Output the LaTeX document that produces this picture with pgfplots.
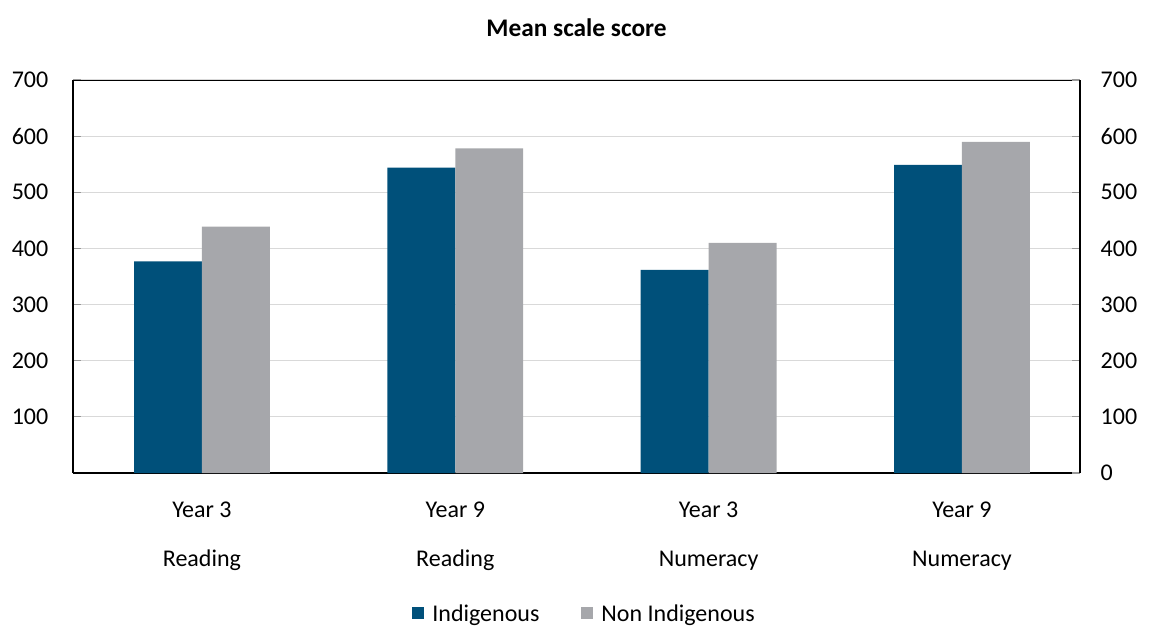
\documentclass[border=0pt]{standalone}
\usepackage{pgfplots}
\pgfplotsset{compat=1.18}
\usepackage{fontspec}
\setmainfont{Carlito}
\definecolor{indig}{RGB}{0,80,122}
\definecolor{nonind}{RGB}{166,167,171}
\definecolor{gridc}{RGB}{217,217,217}

\begin{document}
\begin{tikzpicture}
\useasboundingbox (-54.75pt,-116.25pt) rectangle (811.5pt,354.75pt);
\pgfplotsset{
  base/.style={
    scale only axis,
    width=755.25pt, height=294.75pt,
    xmin=-0.509, xmax=3.466,
    ymin=0, ymax=700,
    axis line style={black, line width=1.5pt},
    tick style={gridc!70!black, line width=0.8pt},
    major tick length=6pt,
    tick align=inside,
    ticklabel style={font=\fontsize{18}{21}\selectfont},
    /pgf/number format/assume math mode=true,
  }
}
\begin{axis}[
    base,
    ybar=0pt,
    bar width=0.268,
    axis y line*=left,
    axis x line*=bottom,
    ytick={100,200,...,700},
    ymajorgrids=true,
    grid style={gridc, line width=0.8pt},
    xtick=data,
    major x tick style={draw=none},
    xticklabels={{Year 3\\Reading},{Year 9\\Reading},{Year 3\\Numeracy},{Year 9\\Numeracy}},
    xticklabel style={align=center, font=\fontsize{18}{36.75}\selectfont, yshift=-12pt},
    yticklabel style={xshift=-15pt},
    title={\textbf{Mean scale score}},
    title style={at={(0.5,1)}, anchor=center, yshift=33pt, font=\fontsize{19}{22}\selectfont},
    legend style={at={(0.508,-0.359)}, anchor=center, legend columns=2, draw=none,
      font=\fontsize{18}{21}\selectfont,
      /tikz/every odd column/.append style={column sep=4pt},
      /tikz/every even column/.append style={column sep=29pt}},
    legend image code/.code={\fill[#1] (0pt,-4pt) rectangle (9.5pt,5.5pt);},
]
\addplot[fill=indig, draw=none] coordinates {(0,377) (1,544) (2,362) (3,549)};
\addplot[fill=nonind, draw=none] coordinates {(0,439) (1,578) (2,410) (3,590)};
\legend{Indigenous, Non Indigenous}
\draw[black, line width=1.5pt] (rel axis cs:0,1) -- (rel axis cs:1,1);
\end{axis}
\begin{axis}[
    base,
    axis y line*=right,
    axis x line=none,
    ytick={0,100,...,700},
    yticklabel style={xshift=12pt},
]
\end{axis}
\end{tikzpicture}
\end{document}
